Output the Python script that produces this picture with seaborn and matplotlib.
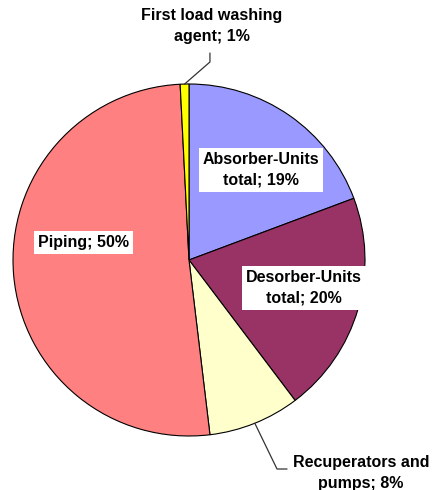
import numpy as np
import matplotlib
matplotlib.use("Agg")
import matplotlib.pyplot as plt
import seaborn as sns

# slice shares and their printed labels
parts = ["Absorber-Units\ntotal", "Desorber-Units\ntotal", "Recuperators and\npumps",
         "Piping", "First load washing\nagent"]
shares = [19.3, 20.4, 8.4, 51.1, 0.8]
shown_pct = [19, 20, 8, 50, 1]
colors = ["#9999FF", "#993366", "#FFFFCC", "#FF8080", "#FFFF00"]

sns.set_theme(style="white")
plt.rcParams["font.family"] = ["Liberation Sans", "DejaVu Sans"]

fig = plt.figure(figsize=(4.33, 4.90), dpi=100)
ax = fig.add_axes([0, 0, 1, 1])

wedges, _ = ax.pie(shares, colors=colors, startangle=90, counterclock=False,
                   wedgeprops=dict(edgecolor="black", linewidth=0.8))

ax.set_xlim(-189 / 176, (433 - 189) / 176)
ax.set_ylim((260 - 490) / 176, 260 / 176)
ax.set_aspect("auto")
ax.axis("off")

# label placement (data coords, pie radius = 1)
label_xy = [(0.409, 0.511), (0.653, -0.159), (0.977, -1.210), (-0.597, 0.102), (0.131, 1.330)]
boxed = [True, True, False, True, False]

for name, pct, xy, box in zip(parts, shown_pct, label_xy, boxed):
    bb = dict(boxstyle="square,pad=0.25", fc="white", ec="none") if box else None
    ax.text(xy[0], xy[1], f"{name}; {pct}%", ha="center", va="center",
            fontsize=11.5, fontweight="bold", color="black", linespacing=1.45, bbox=bb)

# leader lines for the two outside labels
leaders = {4: [(0.119, 1.125), (0.119, 1.176)], 2: [(0.50, -1.1875), (0.557, -1.1875)]}
for i, pts in leaders.items():
    w = wedges[i]
    ang = np.deg2rad((w.theta1 + w.theta2) / 2)
    xs = [np.cos(ang)] + [p[0] for p in pts]
    ys = [np.sin(ang)] + [p[1] for p in pts]
    ax.plot(xs, ys, color="#333333", lw=0.9)

fig.savefig("out.png", dpi=100)
